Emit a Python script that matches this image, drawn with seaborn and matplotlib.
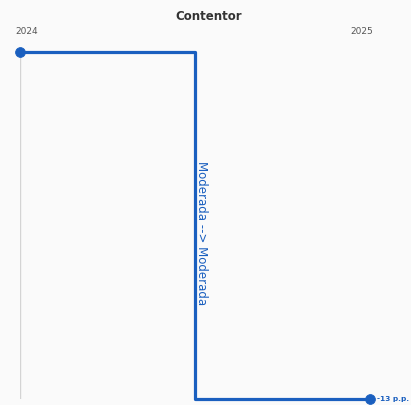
import matplotlib
matplotlib.use("Agg")
import matplotlib.pyplot as plt
import seaborn as sns
import pandas as pd

years = ["2024", "2025"]
values = [0, -13]
end_label = "-13 p.p."
transition = "Moderada --> Moderada"
title = "Contentor"

sns.set_style("white")
plt.rcParams['font.family'] = ['DejaVu Sans']

df = pd.DataFrame({"x": [0, 1], "y": values})

fig = plt.figure(figsize=(4.11, 4.05), dpi=100, facecolor="#fafafa")
ax = fig.add_axes([20/411, 6/405, 350/411, 347/405])
ax.set_facecolor("#fafafa")

blue = "#1a5fbf"
ax.axvline(0, color="#d4d4d4", lw=1, zorder=1)
sns.lineplot(data=df, x="x", y="y", ax=ax, color=blue, lw=2.3,
             drawstyle="steps-mid", zorder=2, clip_on=False)
sns.scatterplot(data=df, x="x", y="y", ax=ax, color=blue, s=50,
                edgecolor=blue, zorder=3, clip_on=False)
ax.set_xlim(0, 1)
ax.set_ylim(min(values), max(values))
for s in ax.spines.values():
    s.set_visible(False)
ax.set_xticks([]); ax.set_yticks([])
ax.set_xlabel(""); ax.set_ylabel("")

ax.text(0.5, (values[0] + values[1]) / 2 - 0.3, transition, rotation=-90,
        ha="left", va="center", color=blue, fontsize=8.5,
        transform=ax.transData, clip_on=False)
ax.annotate(end_label, xy=(1, values[1]), xytext=(5, 0),
            textcoords="offset points", ha="left", va="center",
            color=blue, fontsize=5.3, fontweight="bold", annotation_clip=False,
            zorder=4)

fig.text(209/411, 1 - 17/405, title, ha="center", va="center",
         fontsize=8.5, fontweight="semibold", color="#333333")
fig.text(27/411, 1 - 31/405, years[0], ha="center", va="center",
         fontsize=6.5, color="#555555")
fig.text(362/411, 1 - 31/405, years[1], ha="center", va="center",
         fontsize=6.5, color="#555555")

fig.savefig("out.png", dpi=100, facecolor=fig.get_facecolor())
